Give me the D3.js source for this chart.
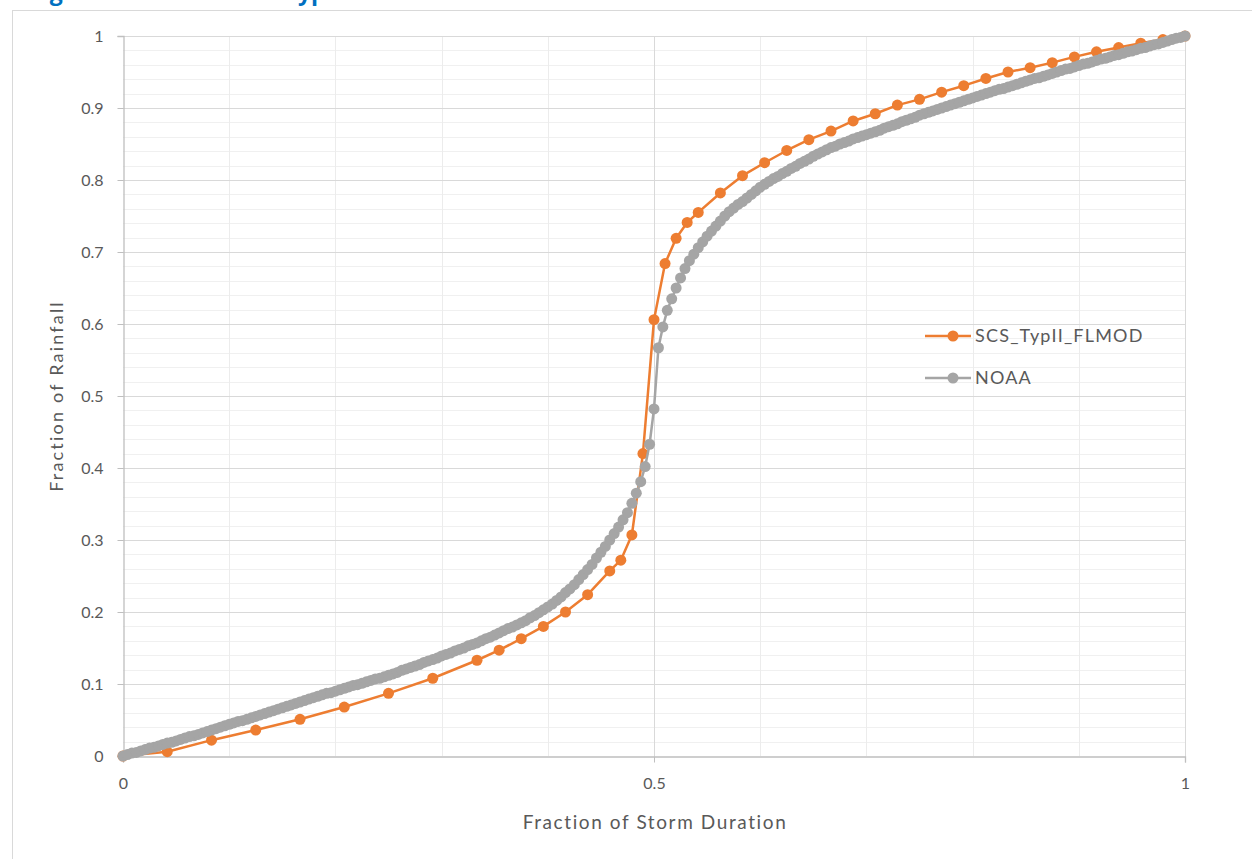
<!DOCTYPE html>
<html>
<head>
<meta charset="utf-8">
<script src="https://cdn.jsdelivr.net/npm/d3@7"></script>
<style>
  body { margin: 0; background: #fff; }
  svg { display: block; font-family: Lato, "Open Sans", sans-serif; }
</style>
</head>
<body>
<div id="chart"></div>
<script>
// storm length (hours) used to turn times into fractions of the storm
const stormHours = 24;

// SCS Type II (Florida modified) - times in hours, cumulative fraction
const scsHours = [0, 1, 2, 3, 4, 5, 6, 7, 8, 8.5, 9, 9.5, 10, 10.5, 11, 11.25, 11.5, 11.75,
    12, 12.25, 12.5, 12.75, 13, 13.5, 14, 14.5, 15, 15.5, 16, 16.5, 17, 17.5, 18, 18.5,
    19, 19.5, 20, 20.5, 21, 21.5, 22, 22.5, 23, 23.5, 24];
const scsFraction = [0, 0.006, 0.022, 0.036, 0.051, 0.068, 0.087, 0.108, 0.133, 0.147, 0.163, 0.180,
    0.200, 0.224, 0.257, 0.272, 0.307, 0.420,
    0.606, 0.684, 0.719, 0.741, 0.755, 0.782, 0.806, 0.824, 0.841, 0.856, 0.868, 0.882,
    0.892, 0.904, 0.912, 0.922, 0.931, 0.941, 0.950, 0.956, 0.963, 0.971, 0.978, 0.984,
    0.990, 0.995, 1.000];

// NOAA distribution, one value every 0.1 hour (one row per hour)
const noaaStep = 0.1;
const noaaFraction = [
    0.000, 0.002, 0.004, 0.005, 0.007, 0.009, 0.011, 0.012, 0.014, 0.016,
    0.018, 0.019, 0.021, 0.023, 0.025, 0.027, 0.028, 0.030, 0.032, 0.034,
    0.036, 0.038, 0.040, 0.042, 0.044, 0.046, 0.048, 0.049, 0.051, 0.053,
    0.055, 0.057, 0.059, 0.061, 0.063, 0.065, 0.067, 0.069, 0.071, 0.073,
    0.075, 0.077, 0.079, 0.081, 0.083, 0.085, 0.087, 0.088, 0.090, 0.092,
    0.094, 0.096, 0.098, 0.099, 0.101, 0.103, 0.105, 0.107, 0.108, 0.110,
    0.112, 0.114, 0.116, 0.119, 0.121, 0.123, 0.125, 0.127, 0.130, 0.132,
    0.134, 0.136, 0.139, 0.141, 0.143, 0.146, 0.148, 0.150, 0.153, 0.155,
    0.157, 0.160, 0.163, 0.165, 0.168, 0.171, 0.174, 0.177, 0.179, 0.182,
    0.185, 0.188, 0.192, 0.195, 0.199, 0.203, 0.207, 0.211, 0.216, 0.221,
    0.227, 0.232, 0.238, 0.245, 0.252, 0.259, 0.266, 0.275, 0.283, 0.291,
    0.300, 0.309, 0.318, 0.328, 0.338, 0.351, 0.365, 0.381, 0.402, 0.433,
    0.482, 0.567, 0.596, 0.619, 0.635, 0.650, 0.664, 0.677, 0.688, 0.697,
    0.706, 0.714, 0.722, 0.729, 0.736, 0.743, 0.750, 0.756, 0.761, 0.766,
    0.770, 0.775, 0.780, 0.785, 0.790, 0.794, 0.798, 0.802, 0.805, 0.809,
    0.812, 0.816, 0.819, 0.823, 0.826, 0.829, 0.833, 0.836, 0.839, 0.842,
    0.845, 0.847, 0.850, 0.852, 0.854, 0.857, 0.859, 0.861, 0.863, 0.865,
    0.867, 0.869, 0.872, 0.874, 0.876, 0.878, 0.881, 0.883, 0.885, 0.887,
    0.890, 0.892, 0.894, 0.896, 0.898, 0.900, 0.902, 0.904, 0.906, 0.908,
    0.910, 0.912, 0.914, 0.916, 0.918, 0.920, 0.922, 0.924, 0.926, 0.927,
    0.929, 0.931, 0.933, 0.935, 0.937, 0.939, 0.941, 0.942, 0.944, 0.946,
    0.948, 0.950, 0.952, 0.954, 0.955, 0.957, 0.959, 0.961, 0.962, 0.964,
    0.966, 0.968, 0.969, 0.971, 0.973, 0.974, 0.976, 0.978, 0.979, 0.981,
    0.983, 0.984, 0.986, 0.988, 0.989, 0.991, 0.993, 0.995, 0.997, 0.998,
    1.000
];

// axis ticks
const xTicks = [0, 0.5, 1];
const yTicks = [0, 0.1, 0.2, 0.3, 0.4, 0.5, 0.6, 0.7, 0.8, 0.9, 1];

const seriesNames = ['SCS_TypII_FLMOD', 'NOAA'];
const seriesColors = ['#ED7D31', '#A5A5A5'];

const W = 1252, H = 859;
const margin = { left: 123, right: 67, top: 36, bottom: 103 };
const dotR = 5.5;

const svg = d3.select('#chart').append('svg')
    .attr('width', W)
    .attr('height', H);

svg.append('rect').attr('width', W).attr('height', H).attr('fill', '#fff');

// title of the figure, mostly cut off above the picture
svg.append('text')
    .attr('x', 30)
    .attr('y', 0)
    .attr('fill', '#0070C0')
    .style('font-family', '"Open Sans", sans-serif')
    .style('font-weight', 'bold')
    .style('font-size', '23px')
    .text('Figure 4. NOAA vs SCS Type II');

// chart frame
svg.append('rect')
    .attr('x', 12.5).attr('y', 10.5)
    .attr('width', W + 20).attr('height', H + 20)
    .attr('fill', 'none')
    .attr('stroke', '#d9d9d9');

const x = d3.scaleLinear().domain([0, 1]).range([margin.left, W - margin.right]);
const y = d3.scaleLinear().domain([0, 1]).range([H - margin.bottom, margin.top]);

//网格线
const grid = svg.append('g');
grid.selectAll('line.hminor')
    .data(d3.range(1, 50).filter(i => i % 5 !== 0).map(i => i / 50))
    .join('line')
    .attr('x1', x(0)).attr('x2', x(1))
    .attr('y1', d => Math.round(y(d)) + 0.5).attr('y2', d => Math.round(y(d)) + 0.5)
    .attr('stroke', '#f0f0f0');
grid.selectAll('line.vminor')
    .data(d3.range(1, 10).filter(i => i !== 5).map(i => i / 10))
    .join('line')
    .attr('y1', y(0)).attr('y2', y(1))
    .attr('x1', d => Math.round(x(d)) + 0.5).attr('x2', d => Math.round(x(d)) + 0.5)
    .attr('stroke', '#ececec');
grid.selectAll('line.hmajor')
    .data(yTicks.slice(1))
    .join('line')
    .attr('x1', x(0)).attr('x2', x(1))
    .attr('y1', d => Math.round(y(d)) + 0.5).attr('y2', d => Math.round(y(d)) + 0.5)
    .attr('stroke', '#d9d9d9');
grid.selectAll('line.vmajor')
    .data(xTicks.slice(1))
    .join('line')
    .attr('y1', y(0)).attr('y2', y(1))
    .attr('x1', d => Math.round(x(d)) + 0.5).attr('x2', d => Math.round(x(d)) + 0.5)
    .attr('stroke', '#d9d9d9');

//坐标轴
const xAxis = svg.append('g')
    .attr('transform', `translate(0,${Math.round(y(0)) + 0.5})`)
    .call(d3.axisBottom(x).tickValues(xTicks).tickFormat(d3.format('~g')).tickSizeOuter(0).tickSize(6).tickPadding(15));
const yAxis = svg.append('g')
    .attr('transform', `translate(${Math.round(x(0)) + 0.5},0)`)
    .call(d3.axisLeft(y).tickValues(yTicks).tickFormat(d3.format('~g')).tickSizeOuter(0).tickSize(6).tickPadding(14));

[xAxis, yAxis].forEach(g => {
    g.select('.domain').attr('stroke', '#bfbfbf').attr('stroke-width', 1.3);
    g.selectAll('.tick line').attr('stroke', '#bfbfbf');
    g.selectAll('.tick text')
        .attr('fill', '#595959')
        .style('font-size', '16px')
        .style('font-family', 'Lato, sans-serif');
});

// axis titles
svg.append('text')
    .attr('x', x(0.5) + 1)
    .attr('y', 829)
    .attr('text-anchor', 'middle')
    .attr('fill', '#595959')
    .style('font-size', '19px')
    .style('letter-spacing', '1.6px')
    .text('Fraction of Storm Duration');
svg.append('text')
    .attr('transform', `translate(63,${y(0.5)}) rotate(-90)`)
    .attr('text-anchor', 'middle')
    .attr('fill', '#595959')
    .style('font-size', '18px')
    .style('letter-spacing', '2.2px')
    .text('Fraction of Rainfall');

//系列数据
const scsPoints = scsHours.map((h, i) => [h / stormHours, scsFraction[i]]);
const noaaPoints = noaaFraction.map((v, i) => [i * noaaStep / stormHours, v]);
const allSeries = [scsPoints, noaaPoints];

const line = d3.line().x(d => x(d[0])).y(d => y(d[1]));

allSeries.forEach((pts, k) => {
    const g = svg.append('g');
    g.append('path')
        .attr('d', line(pts))
        .attr('fill', 'none')
        .attr('stroke', seriesColors[k])
        .attr('stroke-width', 2.5)
        .attr('stroke-linejoin', 'round');
    g.selectAll('circle')
        .data(pts)
        .join('circle')
        .attr('cx', d => x(d[0]))
        .attr('cy', d => y(d[1]))
        .attr('r', dotR)
        .attr('fill', seriesColors[k]);
});

//图例
const legend = svg.append('g').attr('transform', 'translate(925,336)');
seriesNames.forEach((name, k) => {
    const row = legend.append('g').attr('transform', `translate(0,${k * 42})`);
    row.append('line')
        .attr('x1', 0).attr('x2', 46)
        .attr('stroke', seriesColors[k])
        .attr('stroke-width', 2.5);
    row.append('circle')
        .attr('cx', 28).attr('r', dotR)
        .attr('fill', seriesColors[k]);
    row.append('text')
        .attr('x', 50)
        .attr('dy', '0.35em')
        .attr('fill', '#595959')
        .style('font-size', '18px')
        .style('letter-spacing', '1.2px')
        .text(name);
});
</script>
</body>
</html>
